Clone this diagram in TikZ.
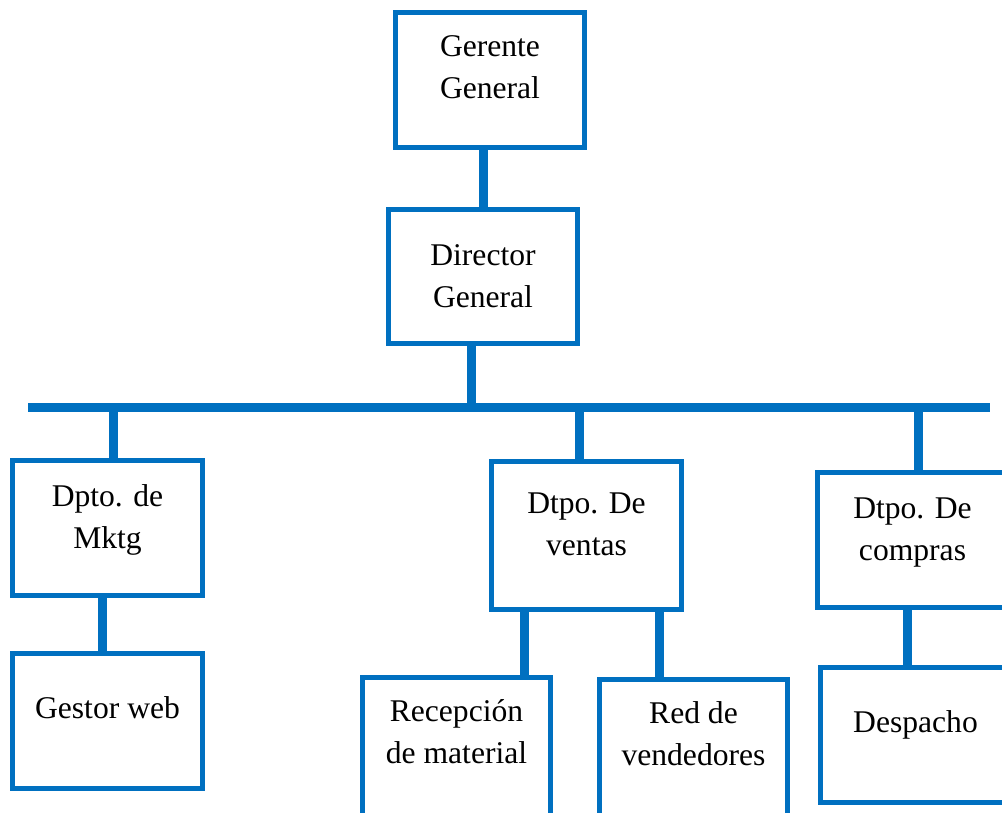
\documentclass[tikz,border=0pt]{standalone}
\usepackage{fontspec}
\setmainfont{Liberation Serif}
\definecolor{orgblue}{HTML}{0070C0}
\tikzset{
  box/.style={draw=orgblue, line width=2.4pt, minimum width=95pt, minimum height=67.5pt, inner sep=0pt},
  lnk/.style={orgblue, line width=4.5pt},
  every label/.style={align=center, font=\fontsize{15.8pt}{21pt}\selectfont, yshift=6.5pt},
}
\begin{document}
\begin{tikzpicture}[x=0.5pt, y=-0.5pt]
    \useasboundingbox (0,0) rectangle (1002,813);
    \node[box, minimum width=94.5pt, label={center:Gerente\\General}] (gg) at (490,80) {};
    \node[box, minimum width=94.5pt, minimum height=67pt, label={[yshift=-6.5pt]center:Director\\General}] (dg) at (483,276.5) {};
    \node[box, label={[yshift=-2.5pt]center:Dpto. de\\Mktg}] (mk) at (107.5,528) {};
    \node[box, label={center:Gestor web}] (gw) at (107.5,721) {};
    \node[box, minimum height=74pt, label={[yshift=-1pt]center:Dtpo. De\\ventas}] (ve) at (586.5,535.5) {};
    \node[box, minimum width=94pt, minimum height=70pt, label={[yshift=1.25pt]center:Recepción\\de material}] (rm) at (456.5,747.5) {};
    \node[box, minimum width=94pt, minimum height=70pt, label={[yshift=1.25pt]center:Red de\\vendedores}] (rv) at (693.5,749.5) {};
    \node[box, label={[yshift=-3pt]center:Dtpo. De\\compras}] (co) at (912.5,540) {};
    \node[box, label={[yshift=-1.5pt]center:Despacho}] (de) at (915.5,735) {};
    \coordinate (busL) at (28,407);
    \coordinate (busR) at (990,407);
    \draw[lnk] (busL) -- (busR);
    \draw[lnk] (dg.north) -- (dg.north |- gg.south);
    \draw[lnk] ([xshift=-6pt]dg.south) -- ([xshift=-6pt]dg.south |- busL);
    \draw[lnk] ([xshift=2.75pt]mk.north) -- ([xshift=2.75pt]mk.north |- busL);
    \draw[lnk] ([xshift=-3.75pt]ve.north) -- ([xshift=-3.75pt]ve.north |- busL);
    \draw[lnk] ([xshift=2.75pt]co.north) -- ([xshift=2.75pt]co.north |- busL);
    \draw[lnk] ([xshift=-2.75pt]mk.south) -- ([xshift=-2.75pt]mk.south |- gw.north);
    \draw[lnk] ([xshift=-31.25pt]ve.south) -- ([xshift=-31.25pt]ve.south |- rm.north);
    \draw[lnk] ([xshift=36.25pt]ve.south) -- ([xshift=36.25pt]ve.south |- rv.north);
    \draw[lnk] ([xshift=-2.75pt]co.south) -- ([xshift=-2.75pt]co.south |- de.north);
\end{tikzpicture}
\end{document}
